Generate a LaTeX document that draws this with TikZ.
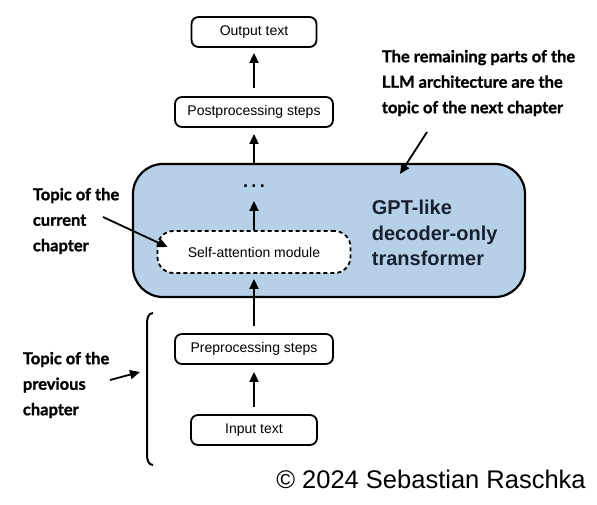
\documentclass[tikz,border=0pt]{standalone}
\usepackage{fontspec}
\setmainfont{Liberation Sans}
\newfontfamily\notefont{Lato}[BoldFeatures={FakeBold=1.2}]
\usetikzlibrary{positioning,arrows.meta}
\definecolor{gptblue}{RGB}{182,209,231}
\definecolor{gptink}{RGB}{24,32,48}
\tikzset{
  stepbox/.style={draw, line width=1.8pt, rounded corners=7pt, fill=white,
    minimum height=30pt, inner sep=0pt, font=\fontsize{14}{16}\selectfont},
  attnbox/.style={stepbox, dash pattern=on 4pt off 3pt, rounded corners=16pt,
    minimum width=193pt, minimum height=42pt},
  gptbox/.style={draw, line width=2.2pt, fill=gptblue, rounded corners=30pt,
    minimum width=392pt, minimum height=133pt},
  note/.style={anchor=west, align=left, inner sep=0pt,
    font=\notefont\bfseries\fontsize{16.5}{25.5}\selectfont},
}

\begin{document}
\begin{tikzpicture}[x=1pt, y=1pt, line width=1.8pt, >={Triangle[length=10pt,width=9pt]}]
 \useasboundingbox (0,0) rectangle (597,504);
 \node [gptbox] (gpt) at (329,273.5) {};
 \node [attnbox] (attn) at (254,252) {Self-attention module};
 \node [on grid, above=66pt of attn, minimum height=28pt, inner sep=0pt,
   font=\bfseries\fontsize{18}{20}\selectfont] (dots) {.\hspace{3.5pt}.\hspace{3.5pt}.};
 \node [stepbox, minimum width=158pt, on grid, above=74pt of dots] (post) {Postprocessing steps};
 \node [stepbox, minimum width=125pt, on grid, above=80pt of post] (out) {Output text};
 \node [stepbox, minimum width=158pt, on grid, below=97pt of attn] (pre) {Preprocessing steps};
 \node [stepbox, minimum width=126pt, on grid, below=81pt of pre] (in) {Input text};
 \node [anchor=west, align=left, inner sep=0pt, text=gptink,
   font=\bfseries\fontsize{20}{25.5}\selectfont] (gptlabel) at (371,271)
   {GPT-like\\decoder-only\\transformer};
 \node [note] (current) at (32,283) {Topic of the\\current\\chapter};
 \node [note] (previous) at (22,119) {Topic of the\\previous\\chapter};
 \node [note] (remaining) at (381,421)
   {The remaining parts of the\\LLM architecture are the\\topic of the next chapter};
 \node [anchor=base, inner sep=0pt, font=\fontsize{25.5}{30}\selectfont] (copy) at (431,16)
   {© 2024 Sebastian Raschka};
 \coordinate (curtail) at (103,287);
 \coordinate (prevtail) at (110,124);
 \coordinate (prevtip) at (140,132);
 \coordinate (remtail) at (427,372);
 \coordinate (remtip) at (400,330);
 \draw [->, shorten <=7pt, shorten >=7pt] (in) -- (pre);
 \draw [->, shorten <=7pt, shorten >=5pt] (pre) -- (attn);
 \draw [->] (attn) -- (dots);
 \draw [->, shorten >=6pt] (gpt.north -| dots) -- (post);
 \draw [->, shorten <=8pt, shorten >=5pt] (post) -- (out);
 \draw [->] (curtail) -- ([xshift=11pt,yshift=5pt]attn.west);
 \draw [->] (prevtail) -- (prevtip);
 \draw [->] (remtail) -- (remtip);
 \draw [line width=2pt] (153,191) to[out=180,in=90] (147,181) -- (147,49)
   to[out=-90,in=180] (153,39);
\end{tikzpicture}
\end{document}
